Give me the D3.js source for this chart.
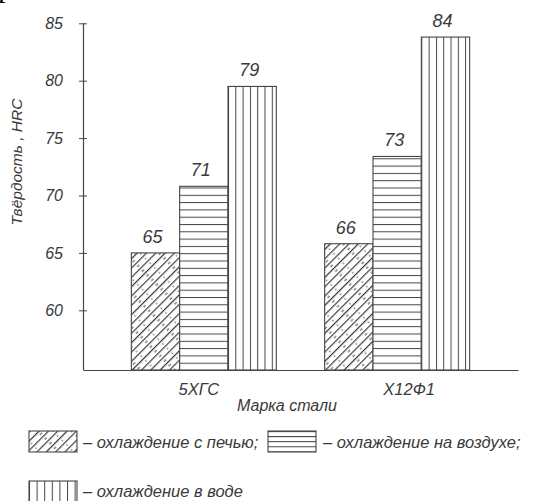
<!DOCTYPE html>
<html>
<head>
<meta charset="utf-8">
<script src="https://cdn.jsdelivr.net/npm/d3@7/dist/d3.min.js"></script>
<style>
  html, body { margin: 0; padding: 0; background: #fff; }
  svg { display: block; }
  text { font-family: "Liberation Sans", "DejaVu Sans", sans-serif; font-style: italic; fill: #3a3a3a; }
</style>
</head>
<body>
<svg id="chart" width="544" height="501"></svg>
<script>
// ---- data ----
const categories = ["5ХГС", "Х12Ф1"];
const seriesNames = ["охлаждение с печью", "охлаждение на воздухе", "охлаждение в воде"];
const valuesFurnace = [65.0, 65.8];
const valuesAir = [70.8, 73.4];
const valuesWater = [79.5, 83.8];
const labelsFurnace = ["65", "66"];
const labelsAir = ["71", "73"];
const labelsWater = ["79", "84"];
const yTicks = [60, 65, 70, 75, 80, 85];
const yTitle = "Твёрдость , HRC";
const xTitle = "Марка стали";
const legendTexts = ["– охлаждение с печью;", "– охлаждение на воздухе;", "– охлаждение в воде"];

const seriesValues = [valuesFurnace, valuesAir, valuesWater];
const seriesLabels = [labelsFurnace, labelsAir, labelsWater];
const patternKinds = ["hatch", "horiz", "vert"];

const svg = d3.select("#chart");
const stroke = "#454545";

svg.append("rect").attr("width", 544).attr("height", 501).attr("fill", "#fff");

// clipped heading fragments at top (from the page above the chart)
svg.append("text").attr("x", -2).attr("y", -3)
  .style("font-family", "Liberation Serif").style("font-style", "normal")
  .style("font-size", "30px").style("fill", "#000").text("р");
svg.append("text").attr("x", 113).attr("y", -14)
  .style("font-family", "Liberation Serif").style("font-style", "normal")
  .style("font-size", "30px").style("fill", "#000").text(")");

const y = d3.scaleLinear().domain([54.8, 85]).range([370, 23.3]);
const x0 = d3.scaleBand().domain(categories).range([83, 518]).paddingInner(0.25).paddingOuter(0.25);
const x1 = d3.scaleBand().domain(d3.range(seriesNames.length)).range([0, x0.bandwidth()]);

const defs = svg.append("defs");

function makePattern(id, kind, ox, oy, spacing) {
  if (kind === "hatch") {
    const p = defs.append("pattern").attr("id", id).attr("patternUnits", "userSpaceOnUse")
      .attr("width", 24).attr("height", 6.6).attr("x", ox).attr("y", oy)
      .attr("patternTransform", "rotate(-45 " + ox + " " + oy + ")");
    p.append("line").attr("x1", 0).attr("x2", 24).attr("y1", 0.6).attr("y2", 0.6)
      .attr("stroke", "#3a3a3a").attr("stroke-width", 1.2);
    p.append("line").attr("x1", 5).attr("x2", 8).attr("y1", 3.9).attr("y2", 3.9)
      .attr("stroke", "#555").attr("stroke-width", 1.1);
    p.append("line").attr("x1", 16).attr("x2", 17.4).attr("y1", 3.9).attr("y2", 3.9)
      .attr("stroke", "#555").attr("stroke-width", 1.1);
  } else if (kind === "horiz") {
    const p = defs.append("pattern").attr("id", id).attr("patternUnits", "userSpaceOnUse")
      .attr("width", 10).attr("height", spacing).attr("x", ox).attr("y", oy);
    p.append("line").attr("x1", 0).attr("x2", 10).attr("y1", 0.5).attr("y2", 0.5)
      .attr("stroke", stroke).attr("stroke-width", 1);
  } else {
    const p = defs.append("pattern").attr("id", id).attr("patternUnits", "userSpaceOnUse")
      .attr("width", spacing).attr("height", 10).attr("x", ox).attr("y", oy);
    p.append("line").attr("y1", 0).attr("y2", 10).attr("x1", 0.5).attr("x2", 0.5)
      .attr("stroke", stroke).attr("stroke-width", 1);
  }
}

// ---- bars ----
const barsG = svg.append("g");
seriesValues.forEach((vals, s) => {
  categories.forEach((cat, i) => {
    const bx = x0(cat) + x1(s);
    const bw = x1.bandwidth();
    const by = y(vals[i]);
    const bh = y.range()[0] - by;
    const id = "p" + s + "_" + i;
    makePattern(id, patternKinds[s], bx, 370, 7.3);
    barsG.append("rect").attr("x", bx).attr("y", by).attr("width", bw).attr("height", bh)
      .attr("fill", "#fff");
    barsG.append("rect").attr("x", bx).attr("y", by).attr("width", bw).attr("height", bh)
      .attr("fill", "url(#" + id + ")").attr("stroke", stroke).attr("stroke-width", 1.1);
    barsG.append("text")
      .attr("x", bx + bw / 2 - 3).attr("y", by - 10)
      .attr("text-anchor", "middle").style("font-size", "18px")
      .text(seriesLabels[s][i]);
  });
});

// ---- y axis ----
const yAxis = d3.axisLeft(y).tickValues(yTicks).tickSizeInner(4).tickSizeOuter(0).tickPadding(16);
const yg = svg.append("g").attr("transform", "translate(83,0)").call(yAxis);
yg.select(".domain").attr("stroke", stroke).attr("stroke-width", 1.2).attr("d", "M0.5," + y(85) + "V" + y.range()[0]);
yg.selectAll(".tick line").attr("x1", -4).attr("x2", 4).attr("stroke", stroke);
yg.selectAll(".tick text").style("font-size", "16px").style("font-family", "Liberation Sans")
  .style("font-style", "italic").attr("fill", "#3a3a3a");

// ---- x axis ----
const labelShift = [-5, 12];
const xAxis = d3.axisBottom(x0).tickSize(0).tickSizeOuter(0);
const xg = svg.append("g").attr("transform", "translate(0,370)").call(xAxis);
xg.select(".domain").attr("stroke", stroke).attr("stroke-width", 1.2);
xg.selectAll(".tick text").attr("y", 25).attr("dy", 0)
  .attr("dx", (d, i) => labelShift[i])
  .style("font-size", "16.5px").style("font-family", "Liberation Sans").style("font-style", "italic")
  .attr("fill", "#3a3a3a");

// titles
svg.append("text").attr("transform", "translate(22,162) rotate(-90)")
  .attr("text-anchor", "middle").style("font-size", "15.5px").text(yTitle);
svg.append("text").attr("x", 287).attr("y", 411)
  .attr("text-anchor", "middle").style("font-size", "16px").text(xTitle);

// ---- legend ----
const legendPos = [
  { bx: 29, by: 431, bh: 21, tx: 80, ty: 448, sp: 0 },
  { bx: 268, by: 431, bh: 21, tx: 320, ty: 448, sp: 5.1 },
  { bx: 29, by: 481, bh: 22, tx: 80, ty: 497, sp: 7.6 }
];
const lg = svg.append("g");
seriesNames.forEach((name, s) => {
  const L = legendPos[s];
  const id = "lp" + s;
  makePattern(id, patternKinds[s], L.bx, L.by, L.sp);
  lg.append("rect").attr("x", L.bx).attr("y", L.by).attr("width", 48).attr("height", L.bh)
    .attr("fill", "url(#" + id + ")").attr("stroke", stroke).attr("stroke-width", 1.1);
  lg.append("text").attr("x", L.tx + 3).attr("y", L.ty).style("font-size", "16.5px").text(legendTexts[s]);
});
</script>
</body>
</html>
